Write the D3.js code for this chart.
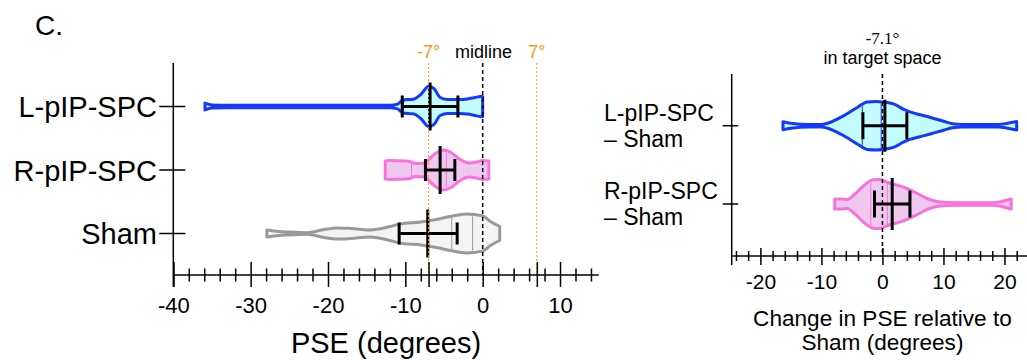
<!DOCTYPE html>
<html>
<head>
<meta charset="utf-8">
<script src="https://cdn.jsdelivr.net/npm/d3@7"></script>
<style>
  body { margin: 0; background: #fff; }
  svg { display: block; font-family: "Liberation Sans", Arial, sans-serif; }
</style>
</head>
<body>
<svg id="fig"></svg>
<script>
// ---- data ----
const leftGroups = ['L-pIP-SPC', 'R-pIP-SPC', 'Sham'];
// violin outlines: [value in degrees, relative density]
const leftDensity = [
  [[-35.9, 0.17], [-35, 0.08], [-33, 0.06], [-20, 0.06], [-12, 0.06], [-11, 0.12], [-10.3, 0.33], [-9, 0.36],
   [-8, 0.6], [-7, 1.0], [-6.3, 0.9], [-5.5, 0.45], [-4.5, 0.35], [-3, 0.35], [-2, 0.38], [-1, 0.45], [-0.3, 0.5], [0, 0.5]],
  [[-12.6, 0.45], [-12, 0.47], [-10, 0.45], [-9.2, 0.4], [-8.8, 0.32], [-7.5, 0.35], [-6.5, 0.7], [-5.2, 1.0],
   [-4.2, 0.9], [-3, 0.55], [-1.8, 0.35], [-0.8, 0.4], [0, 0.47], [0.8, 0.45]],
  [[-27.9, 0.17], [-27, 0.12], [-25, 0.07], [-22.7, 0.04], [-20.5, 0.2], [-18.8, 0.28], [-17, 0.25], [-14.6, 0.18],
   [-12, 0.35], [-10.7, 0.48], [-8, 0.58], [-6, 0.7], [-4.2, 0.85], [-2.1, 0.97], [0, 0.88], [1, 0.6], [2.2, 0.35]]
];
const leftQuartiles = [[-10.3, -7, -3.3], [-9.2, -7.4, -4.7], [-7, -4, -1.3]];
const leftMean = [-6.8, -5.5, -7.1];
const leftLow = [-10.4, -7.4, -10.8];
const leftHigh = [-3.2, -3.6, -3.3];
const leftTicks = [-40, -30, -20, -10, 0, 10];

const rightGroups = [['L-pIP-SPC', '– Sham'], ['R-pIP-SPC', '– Sham']];
const rightDensity = [
  [[-16.3, 0.16], [-15, 0.1], [-12, 0.05], [-10, 0.05], [-9, 0.1], [-6, 0.45], [-4, 0.75], [-2.5, 0.95], [-1, 0.97],
   [0, 0.95], [2, 0.85], [3.5, 0.65], [4.5, 0.55], [6, 0.45], [8, 0.32], [10, 0.18], [11.5, 0.08], [13, 0.05],
   [19, 0.05], [20.5, 0.1], [22, 0.17]],
  [[-7.8, 0.2], [-6.8, 0.2], [-5.8, 0.18], [-4.5, 0.4], [-3, 0.75], [-1.5, 0.97], [-0.5, 0.98], [1, 0.85],
   [2.3, 0.76], [4, 0.62], [5.5, 0.45], [7.5, 0.2], [9.5, 0.08], [12, 0.05], [18, 0.05], [19.5, 0.1], [21.1, 0.2]]
];
const rightQuartiles = [[-3.3, -0.2, 4.0], [-1.9, 0.8, 4.7]];
const rightMean = [0.4, 1.6];
const rightLow = [-3.2, -1.3];
const rightHigh = [4.0, 4.5];
const rightTicks = [-20, -10, 0, 10, 20];

// ---- styles ----
const strokes = ['#1438ff', '#f772dc', '#999999'];
const fills = ['#c2fcfc', '#efc8f0', '#f4f4f4'];
const orange = '#f7941d';

let svg = d3.select('#fig').attr('width', 1027).attr('height', 360);

svg.append('text').attr('x', 35).attr('y', 35).attr('font-size', 28).text('C.');

function crossTicks(g, scale, values, up, down) {
  g.call(d3.axisBottom(scale).tickValues(values).tickSize(down).tickFormat(''))
   .call(s => s.select('.domain').remove());
  g.selectAll('.tick line').attr('y1', -up).attr('stroke', '#000').attr('stroke-width', 1.5);
}

function painel(p) {
  let fnX = d3.scaleLinear().domain(p.dominio).range(p.faixaX);
  let fnY = d3.scalePoint().domain(d3.range(p.dens.length)).range(p.faixaY);
  let fnW = d3.scaleLinear().domain([0, 1]).range([0, p.meia]);
  let eixoY0 = fnX.range()[0];

  // violins
  let area = d3.area()
    .x(d => fnX(d[0]))
    .y0((d, i, arr) => 0 - fnW(d[1]))
    .y1(d => fnW(d[1]))
    .curve(d3.curveMonotoneX);

  let grupos = svg.selectAll(null).data(p.dens).enter().append('g')
    .attr('transform', (d, i) => 'translate(0,' + fnY(i) + ')');

  grupos.append('path')
    .attr('d', d => area(d))
    .attr('fill', (d, i) => fills[p.cores[i]])
    .attr('stroke', (d, i) => strokes[p.cores[i]])
    .attr('stroke-width', 3)
    .attr('stroke-linejoin', 'round');

  grupos.each(function (d, i) {
    let larg = d3.scaleLinear().domain(d.map(v => v[0])).range(d.map(v => v[1]));
    d3.select(this).selectAll('.quartil').data(p.quartis[i]).enter().append('line')
      .attr('x1', q => fnX(q)).attr('x2', q => fnX(q))
      .attr('y1', q => -fnW(larg(q)) + 1.5).attr('y2', q => fnW(larg(q)) - 1.5)
      .attr('stroke', strokes[p.cores[i]]).attr('stroke-width', 1);
  });

  // reference lines
  p.refs.forEach(r => {
    svg.append('line')
      .attr('x1', fnX(r.v)).attr('x2', fnX(r.v))
      .attr('y1', r.topo).attr('y2', p.baseY)
      .attr('stroke', r.cor).attr('stroke-width', r.w)
      .attr('stroke-dasharray', r.dash);
  });

  // mean / interval bars
  grupos.append('line')
    .attr('x1', (d, i) => fnX(p.baixo[i])).attr('x2', (d, i) => fnX(p.alto[i]))
    .attr('stroke', '#000').attr('stroke-width', 3);
  grupos.append('line')
    .attr('x1', (d, i) => fnX(p.baixo[i])).attr('x2', (d, i) => fnX(p.baixo[i]))
    .attr('y1', -p.cap).attr('y2', p.cap).attr('stroke', '#000').attr('stroke-width', 3);
  grupos.append('line')
    .attr('x1', (d, i) => fnX(p.alto[i])).attr('x2', (d, i) => fnX(p.alto[i]))
    .attr('y1', -p.cap).attr('y2', p.cap).attr('stroke', '#000').attr('stroke-width', 3);
  grupos.append('line')
    .attr('x1', (d, i) => fnX(p.media[i])).attr('x2', (d, i) => fnX(p.media[i]))
    .attr('y1', -p.haste).attr('y2', p.haste).attr('stroke', '#000').attr('stroke-width', 3);

  // y axis
  svg.append('line').attr('x1', eixoY0).attr('x2', eixoY0)
    .attr('y1', p.topoY).attr('y2', p.baseY + p.maior[1])
    .attr('stroke', '#000').attr('stroke-width', 1.5);
  svg.selectAll(null).data(p.dens).enter().append('line')
    .attr('x1', eixoY0 - p.tickY[0]).attr('x2', eixoY0 + p.tickY[1])
    .attr('y1', (d, i) => fnY(i)).attr('y2', (d, i) => fnY(i))
    .attr('stroke', '#000').attr('stroke-width', 1.5);

  // x axis
  svg.append('line').attr('x1', eixoY0).attr('x2', fnX.range()[1])
    .attr('y1', p.baseY).attr('y2', p.baseY).attr('stroke', '#000').attr('stroke-width', 1.5);
  let menores = d3.range(p.menor0, p.dominio[1], 2).filter(v => p.ticks.indexOf(v) < 0);
  svg.append('g').attr('transform', 'translate(0,' + p.baseY + ')')
    .call(g => crossTicks(g, fnX, menores, p.menor[0], p.menor[1]));
  svg.append('g').attr('transform', 'translate(0,' + p.baseY + ')')
    .call(g => crossTicks(g, fnX, p.ticks.concat(p.extras), p.maior[0], p.maior[1]));

  let rot = svg.append('g').attr('transform', 'translate(0,' + p.baseY + ')')
    .call(d3.axisBottom(fnX).tickValues(p.ticks).tickSize(0).tickFormat(d => String(d)));
  rot.select('.domain').remove();
  rot.selectAll('text')
    .attr('y', p.rotY).attr('dy', null)
    .attr('fill', '#000')
    .attr('font-size', p.fonte)
    .attr('font-family', '"Liberation Sans", Arial, sans-serif');

  return { fnX, fnY };
}

// ---- left panel ----
let esq = painel({
  dens: leftDensity, quartis: leftQuartiles, media: leftMean, baixo: leftLow, alto: leftHigh,
  cores: [0, 1, 2], dominio: [-40, 15], faixaX: [173.3, 598.7], faixaY: [106.5, 233.5],
  meia: 20, cap: 11, haste: 24, topoY: 63, baseY: 275, tickY: [14, 12],
  ticks: leftTicks, extras: [-40, -7, 7], menor0: -38, menor: [6.5, 6.5], maior: [13, 12],
  rotY: 38, fonte: 22,
  refs: [
    { v: -7, topo: 63, cor: orange, w: 1, dash: '2,2' },
    { v: 7, topo: 63, cor: orange, w: 1, dash: '2,2' },
    { v: 0, topo: 63, cor: '#000', w: 1.5, dash: '4,3' }
  ]
});

svg.selectAll(null).data(leftGroups).enter().append('text')
  .attr('x', 157).attr('y', (d, i) => esq.fnY(i) + 10.5)
  .attr('text-anchor', 'end').attr('font-size', 29)
  .text(d => d);

svg.append('text').attr('x', esq.fnX(-7)).attr('y', 58).attr('text-anchor', 'middle')
  .attr('font-size', 18).attr('fill', orange).text('-7°');
svg.append('text').attr('x', esq.fnX(7)).attr('y', 58).attr('text-anchor', 'middle')
  .attr('font-size', 18).attr('fill', orange).text('7°');
svg.append('text').attr('x', 455).attr('y', 58)
  .attr('font-size', 18).text('midline');
svg.append('text').attr('x', esq.fnX(-12.5)).attr('y', 353).attr('text-anchor', 'middle')
  .attr('font-size', 29).text('PSE (degrees)');

// ---- right panel ----
let dir = painel({
  dens: rightDensity, quartis: rightQuartiles, media: rightMean, baixo: rightLow, alto: rightHigh,
  cores: [0, 1], dominio: [-24.7, 25], faixaX: [731.7, 1035], faixaY: [125.7, 204],
  meia: 25, cap: 13.5, haste: 26, topoY: 74, baseY: 256, tickY: [9, 6.5],
  ticks: rightTicks, extras: [], menor0: -24, menor: [5, 5], maior: [8, 9],
  rotY: 33, fonte: 21,
  refs: [
    { v: 0, topo: 74, cor: '#000', w: 1.5, dash: '4,3' }
  ]
});

let rotDir = svg.selectAll(null).data(rightGroups).enter().append('text')
  .attr('x', 604).attr('y', (d, i) => dir.fnY(i) - 4.8)
  .attr('font-size', 23);
rotDir.append('tspan').text(d => d[0]);
rotDir.append('tspan').attr('x', 604).attr('dy', 26).text(d => d[1]);

svg.append('text').attr('x', dir.fnX(0)).attr('y', 44).attr('text-anchor', 'middle')
  .attr('font-family', '"Liberation Serif", "Times New Roman", serif')
  .attr('font-size', 17).text('-7.1°');
svg.append('text').attr('x', dir.fnX(0)).attr('y', 64).attr('text-anchor', 'middle')
  .attr('font-size', 18).text('in target space');

let tituloDir = svg.append('text').attr('x', dir.fnX(0)).attr('y', 326)
  .attr('text-anchor', 'middle').attr('font-size', 22.6);
tituloDir.append('tspan').text('Change in PSE relative to');
tituloDir.append('tspan').attr('x', dir.fnX(0)).attr('dy', 23.5).text('Sham (degrees)');
</script>
</body>
</html>
